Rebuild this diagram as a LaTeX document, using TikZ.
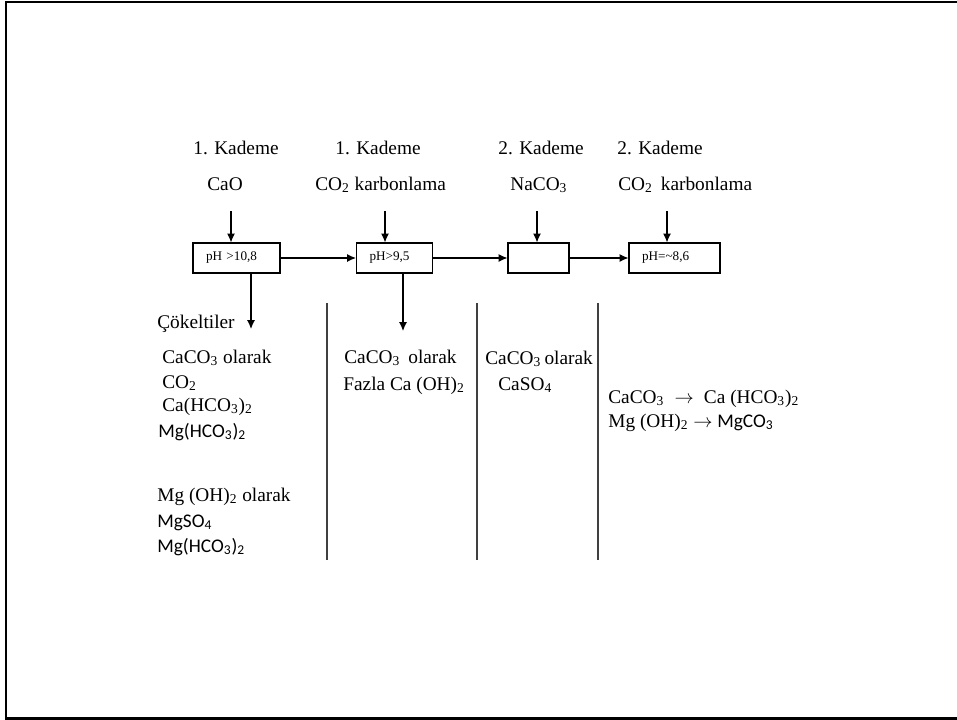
\documentclass[tikz,border=0pt]{standalone}
\usepackage{fontspec}
\setmainfont{Liberation Serif}
\newfontfamily\calibri{Carlito}
\usetikzlibrary{arrows.meta}

\begin{document}
\begin{tikzpicture}[x=0.02cm, y=-0.02cm,
		txt/.style={anchor=base west, inner sep=0pt, font=\fontsize{11}{13}\selectfont},
		stage/.style={draw, line width=0.6pt, minimum height=0.6cm, inner xsep=0.26cm, inner ysep=0pt, text width=#1, align=left, font=\fontsize{7.5}{9}\selectfont},
		flow/.style={line width=0.7pt, -{Latex[length=5pt, width=4.5pt]}},
		divider/.style={line width=0.7pt, black!75}]
				\useasboundingbox (0,0) rectangle (957,720);
				\draw[line width=1.7pt] (957,2) -- (6,2) -- (6,718) -- (957,718);

				\node[txt] (h1) at (193,154) {1. Kademe};
				\node[txt] (h2) at (335,154) {1. Kademe};
				\node[txt] (h3) at (498,154) {2. Kademe};
				\node[txt] (h4) at (617,154) {2. Kademe};
				\node[txt] (r1) at (207,190) {CaO};
				\node[txt] (r2) at (315,190) {CO\textsubscript{2} karbonlama};
				\node[txt] (r3) at (510,190) {NaCO\textsubscript{3}};
				\node[txt] (r4) at (618,190) {CO\textsubscript{2}\, karbonlama};

				\node[stage=1.22cm] (b1) at (236.5,258) {pH >10,8};
				\node[stage=1.0cm] (b2) at (394.5,258) {pH>9,5};
				\node[stage=0.7cm] (b3) at (538.5,258) {};
				\node[stage=1.3cm] (b4) at (674.5,258) {pH=\textasciitilde8,6};

				\coordinate (t1) at (231,211);
				\coordinate (t2) at (385,211);
				\coordinate (t3) at (537,211);
				\coordinate (t4) at (667,211);
				\foreach \i in {1,...,4}
					\draw[flow] (t\i) -- (t\i |- b\i.north);
				\draw[flow] (b1) -- (b2);
				\draw[flow] (b2) -- (b3);
				\draw[flow] (b3) -- (b4);

				\coordinate (d1) at (251,329);
				\coordinate (d2) at (403,331);
				\draw[flow] (d1 |- b1.south) -- (d1);
				\draw[flow] (d2 |- b2.south) -- (d2);

				\foreach \x in {327,477,598}
					\draw[divider] (\x,303) -- (\x,560);

				\node[txt] (c0) at (157,328) {Çökeltiler};
				\node[txt] (c1) at (162,363) {CaCO\textsubscript{3} olarak};
				\node[txt] (c2) at (162,388) {CO\textsubscript{2}};
				\node[txt] (c3) at (162,411) {Ca(HCO\textsubscript{3})\textsubscript{2}};
				\node[txt] (c4) at (158,437) {\calibri Mg(HCO\textsubscript{3})\textsubscript{2}};
				\node[txt] (c5) at (157,501) {Mg (OH)\textsubscript{2} olarak};
				\node[txt] (c6) at (157,527) {\calibri MgSO\textsubscript{4}};
				\node[txt] (c7) at (157,552) {\calibri Mg(HCO\textsubscript{3})\textsubscript{2}};

				\node[txt] (e1) at (344,363) {CaCO\textsubscript{3}\, olarak};
				\node[txt] (e2) at (343,390) {Fazla Ca (OH)\textsubscript{2}};

				\node[txt] (f1) at (485,364) {CaCO\textsubscript{3}\,olarak};
				\node[txt] (f2) at (498,390) {CaSO\textsubscript{4}};

				\node[txt] (g1) at (608,403) {CaCO\textsubscript{3}\; $\rightarrow$\; Ca (HCO\textsubscript{3})\textsubscript{2}};
				\node[txt] (g2) at (608,427) {Mg (OH)\textsubscript{2} $\rightarrow$ {\calibri MgCO\textsubscript{3}}};
			\end{tikzpicture}
\end{document}
